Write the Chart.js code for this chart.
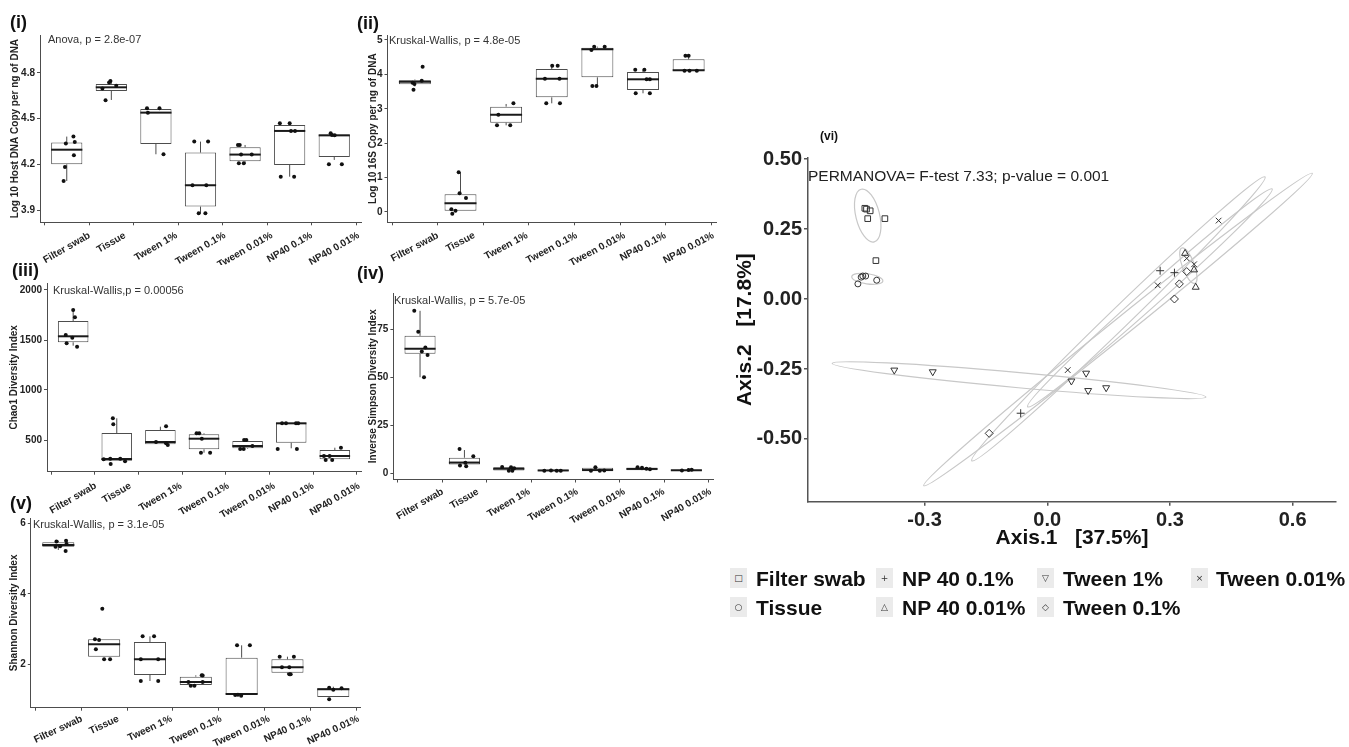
<!DOCTYPE html>
<html>
<head>
<meta charset="utf-8">
<title>Swab processing comparison</title>
<script src="https://cdn.jsdelivr.net/npm/chart.js@4.4.1/dist/chart.umd.min.js"></script>
<style>
  html, body { margin: 0; padding: 0; background: #fff; }
  body { position: relative; width: 1349px; height: 747px; overflow: hidden;
         font-family: "Liberation Sans", Arial, sans-serif; color: #111; }
  canvas { position: absolute; }
  .tag { position: absolute; font-weight: bold; font-size: 18px; line-height: 1; }
  .note { position: absolute; font-size: 11px; line-height: 1; color: #333; white-space: nowrap; }
  .key { position: absolute; width: 17px; height: 20px; background: #ebebeb; font: 9px "DejaVu Sans", sans-serif;
         color: #333; display: flex; align-items: center; justify-content: center; }
  .ktxt { position: absolute; font-weight: bold; font-size: 21px; line-height: 1; white-space: nowrap; }
</style>
</head>
<body>
<canvas id="c1" width="365" height="265" style="left:0;top:0"></canvas>
<canvas id="c2" width="365" height="265" style="left:355px;top:0"></canvas>
<canvas id="c3" width="365" height="265" style="left:0;top:262px"></canvas>
<canvas id="c4" width="365" height="265" style="left:355px;top:262px"></canvas>
<canvas id="c5" width="365" height="255" style="left:0;top:492px"></canvas>
<canvas id="c6" width="649" height="460" style="left:700px;top:100px"></canvas>

<div class="tag" style="left:10px;top:13px">(i)</div>
<div class="tag" style="left:357px;top:14px">(ii)</div>
<div class="tag" style="left:12px;top:261px">(iii)</div>
<div class="tag" style="left:357px;top:264px">(iv)</div>
<div class="tag" style="left:10px;top:494px">(v)</div>
<div class="tag" style="left:820px;top:130px;font-size:12px">(vi)</div>

<div class="note" style="left:48px;top:34px">Anova, p = 2.8e-07</div>
<div class="note" style="left:389px;top:35px">Kruskal-Wallis, p = 4.8e-05</div>
<div class="note" style="left:53px;top:285px">Kruskal-Wallis,p = 0.00056</div>
<div class="note" style="left:394px;top:295px">Kruskal-Wallis, p = 5.7e-05</div>
<div class="note" style="left:33px;top:519px">Kruskal-Wallis, p = 3.1e-05</div>
<div class="note" style="left:808px;top:168px;font-size:15.5px;color:#222">PERMANOVA= F-test 7.33; p-value = 0.001</div>
<div id="legend"></div>

<script>
Chart.defaults.font.family = '"Liberation Sans", Arial, sans-serif';
Chart.defaults.color = '#222';

// ---- categories ---- //
const groups = ["Filter swab", "Tissue", "Tween 1%", "Tween 0.1%", "Tween 0.01%", "NP40 0.1%", "NP40 0.01%"];

// ---- (i) host DNA ---- //
const hostQ1  = [4.201, 4.682, 4.335, 3.924, 4.221, 4.197, 4.249];
const hostMed = [4.297, 4.706, 4.540, 4.064, 4.265, 4.420, 4.391];
const hostQ3  = [4.345, 4.728, 4.564, 4.278, 4.313, 4.459, 4.396];
const hostLo  = [4.092, 4.623, 4.267, 3.880, 4.208, 4.120, 4.230];
const hostHi  = [4.383, 4.748, 4.564, 4.350, 4.328, 4.470, 4.396];
// [jitter, value]
const hostPts = [
  [[0.15, 4.383], [-0.02, 4.337], [0.18, 4.348], [0.16, 4.260], [-0.04, 4.184], [-0.07, 4.092]],
  [[-0.02, 4.748], [-0.05, 4.737], [0.11, 4.717], [-0.20, 4.699], [-0.13, 4.621]],
  [[-0.20, 4.568], [0.08, 4.568], [-0.18, 4.540], [0.17, 4.267]],
  [[-0.14, 4.350], [0.17, 4.350], [-0.18, 4.064], [0.13, 4.064], [-0.04, 3.880], [0.11, 3.880]],
  [[-0.16, 4.328], [-0.12, 4.328], [-0.09, 4.265], [0.15, 4.265], [-0.14, 4.208], [-0.03, 4.208]],
  [[-0.22, 4.470], [0.00, 4.470], [0.03, 4.420], [0.12, 4.420], [-0.20, 4.120], [0.10, 4.120]],
  [[-0.08, 4.405], [-0.05, 4.394], [0.01, 4.391], [-0.12, 4.201], [0.17, 4.201]]
];
const hostTicks = [3.9, 4.2, 4.5, 4.8];
const hostRange = [3.821, 5.049];

// ---- (ii) 16S ---- //
const s16Q1  = [3.711, 0.039, 2.597, 3.333, 3.915, 3.547, 4.109];
const s16Med = [3.789, 0.252, 2.829, 3.876, 4.729, 3.857, 4.118];
const s16Q3  = [3.828, 0.514, 3.062, 4.157, 4.777, 4.070, 4.438];
const s16Lo  = [3.650, 0.039, 2.519, 3.159, 3.663, 3.450, 4.109];
const s16Hi  = [3.850, 1.153, 3.140, 4.254, 4.806, 4.138, 4.545];
const s16Pts = [
  [[0.17, 4.225], [-0.05, 3.760], [0.15, 3.818], [-0.01, 3.721], [-0.03, 3.556]],
  [[-0.04, 1.153], [-0.02, 0.543], [0.12, 0.407], [-0.20, 0.078], [-0.11, 0.039], [-0.18, -0.048]],
  [[-0.17, 2.829], [0.16, 3.159], [-0.20, 2.519], [0.09, 2.519]],
  [[0.01, 4.254], [0.13, 4.254], [-0.15, 3.876], [0.17, 3.876], [-0.12, 3.159], [0.18, 3.159]],
  [[-0.07, 4.806], [0.16, 4.806], [-0.13, 4.709], [-0.11, 3.663], [-0.02, 3.663]],
  [[-0.17, 4.138], [0.03, 4.138], [0.08, 3.857], [0.15, 3.857], [-0.16, 3.450], [0.15, 3.450]],
  [[-0.07, 4.545], [0.00, 4.545], [-0.09, 4.109], [0.02, 4.109], [0.18, 4.109]]
];
const s16Ticks = [0, 1, 2, 3, 4, 5];
const s16Range = [-0.30, 5.145];

// ---- (iii) Chao1 ---- //
const chaoQ1  = [1477, 293, 457, 407, 417, 473, 307];
const chaoMed = [1537, 310, 480, 513, 440, 667, 340];
const chaoQ3  = [1690, 570, 600, 557, 490, 667, 400];
const chaoLo  = [1443, 293, 457, 373, 410, 417, 307];
const chaoHi  = [1790, 717, 633, 567, 500, 667, 423];
const chaoPts = [
  [[0.00, 1800], [0.04, 1727], [-0.17, 1550], [-0.02, 1523], [-0.15, 1467], [0.09, 1433]],
  [[-0.09, 717], [-0.08, 657], [-0.30, 307], [-0.15, 313], [0.08, 313], [0.19, 287], [-0.14, 260]],
  [[0.13, 637], [-0.10, 480], [0.13, 467], [0.17, 450]],
  [[-0.17, 567], [-0.11, 567], [-0.05, 513], [-0.07, 373], [0.14, 373]],
  [[-0.08, 500], [-0.03, 500], [0.11, 440], [-0.17, 410], [-0.09, 410]],
  [[-0.21, 667], [-0.12, 667], [0.11, 667], [0.16, 667], [-0.31, 410], [0.13, 410]],
  [[0.14, 423], [-0.25, 340], [-0.12, 340], [-0.06, 300], [-0.21, 300]]
];
const chaoTicks = [500, 1000, 1500, 2000];
const chaoRange = [183, 2070];

// ---- (iv) inverse Simpson ---- //
const simpQ1  = [62.2, 4.7, 1.6, 1.3, 1.4, 1.7, 1.5];
const simpMed = [64.8, 5.7, 2.5, 1.6, 1.8, 2.4, 1.7];
const simpQ3  = [71.5, 8.2, 3.2, 2.0, 3.0, 3.0, 1.9];
const simpLo  = [50.0, 4.7, 1.4, 1.3, 1.3, 1.6, 1.5];
const simpHi  = [84.5, 12.2, 3.4, 2.0, 3.2, 3.5, 1.9];
const simpPts = [
  [[-0.13, 84.5], [-0.04, 73.6], [0.12, 65.5], [0.04, 63.4], [0.17, 61.6], [0.09, 50.0]],
  [[-0.11, 12.7], [0.20, 9.0], [0.02, 5.6], [-0.10, 4.2], [0.04, 3.8]],
  [[-0.15, 3.4], [0.05, 3.3], [0.12, 2.8], [0.00, 1.5], [0.08, 1.4]],
  [[-0.20, 1.5], [-0.05, 1.6], [0.08, 1.5], [0.17, 1.4]],
  [[-0.05, 3.2], [-0.15, 1.5], [0.05, 1.4], [0.15, 1.6]],
  [[-0.10, 3.3], [0.00, 3.0], [0.10, 2.5], [0.18, 2.2]],
  [[-0.10, 1.6], [0.05, 1.8], [0.12, 1.9]]
];
const simpTicks = [0, 25, 50, 75];
const simpRange = [-3.1, 93.75];

// ---- (v) Shannon ---- //
const shanQ1  = [5.338, 2.217, 1.697, 1.414, 1.149, 1.764, 1.073];
const shanMed = [5.385, 2.567, 2.142, 1.499, 1.158, 1.915, 1.291];
const shanQ3  = [5.461, 2.709, 2.634, 1.650, 2.189, 2.142, 1.319];
const shanLo  = [5.243, 2.217, 1.527, 1.395, 1.149, 1.716, 1.073];
const shanHi  = [5.508, 2.709, 2.794, 1.688, 2.539, 2.217, 1.366];
const shanPts = [
  [[-0.04, 5.480], [0.17, 5.508], [-0.06, 5.338], [0.18, 5.414], [0.16, 5.215], [0.04, 5.348]],
  [[-0.04, 3.579], [-0.20, 2.709], [-0.11, 2.690], [-0.18, 2.426], [0.00, 2.142], [0.13, 2.142]],
  [[-0.16, 2.794], [0.09, 2.794], [-0.20, 2.142], [0.18, 2.142], [-0.20, 1.527], [0.18, 1.527]],
  [[0.13, 1.688], [0.15, 1.680], [-0.16, 1.499], [0.15, 1.499], [-0.11, 1.395], [-0.03, 1.395]],
  [[-0.10, 2.539], [0.18, 2.539], [-0.14, 1.130], [-0.08, 1.139], [-0.01, 1.111]],
  [[-0.17, 2.217], [0.14, 2.217], [-0.12, 1.915], [0.04, 1.915], [0.04, 1.716], [0.07, 1.716]],
  [[-0.09, 1.338], [0.00, 1.281], [0.18, 1.319], [-0.09, 1.007]]
];
const shanTicks = [2, 4, 6];
const shanRange = [0.77, 6.15];

// ---- (vi) PCoA ---- //
const pcoaGroups = ["Filter swab", "Tissue", "NP 40 0.1%", "NP 40 0.01%", "Tween 1%", "Tween 0.1%", "Tween 0.01%"];
const pcoaAx1 = [
  [-0.446, -0.442, -0.433, -0.439, -0.397, -0.419],
  [-0.463, -0.455, -0.451, -0.444, -0.417],
  [0.276, 0.311, -0.065],
  [0.337, 0.359, 0.363],
  [-0.374, -0.280, 0.095, 0.059, 0.100, 0.144],
  [0.341, 0.323, 0.311, -0.142],
  [0.419, 0.341, 0.359, 0.270, 0.050]
];
const pcoaAx2 = [
  [0.324, 0.321, 0.315, 0.287, 0.287, 0.137],
  [0.054, 0.078, 0.082, 0.082, 0.067],
  [0.101, 0.094, -0.408],
  [0.163, 0.104, 0.042],
  [-0.254, -0.260, -0.265, -0.293, -0.327, -0.317],
  [0.098, 0.054, 0.000, -0.480],
  [0.280, 0.145, 0.124, 0.049, -0.254]
];
// ellipse per group: centre, end of long axis, end of short axis
const ellCx = [-0.439, -0.440, 0.174, 0.345, -0.069, 0.173, 0.251];
const ellCy = [0.298, 0.072, -0.071, 0.119, -0.290, -0.109, 0.004];
const ellTx = [-0.455, -0.402, 0.5325, 0.361, 0.388, 0.648, 0.550];
const ellTy = [0.392, 0.064, 0.436, 0.056, -0.350, 0.449, 0.393];
const ellSx = [-0.411, -0.442, 0.191, 0.359, -0.0705, 0.187, 0.266];
const ellSy = [0.309, 0.054, -0.097, 0.126, -0.317, -0.134, -0.020];
const pcoaXTicks = [-0.3, 0.0, 0.3, 0.6];
const pcoaXTickLabels = ["-0.3", "0.0", "0.3", "0.6"];
const pcoaYTicks = [-0.5, -0.25, 0, 0.25, 0.5];
const pcoaYTickLabels = ["-0.50", "-0.25", "0.00", "0.25", "0.50"];
const pcoaXRange = [-0.585, 0.706];
const pcoaYRange = [-0.724, 0.505];
const pcoaSymbols = ["\u25A1", "\u25CB", "+", "\u25B3", "\u25BD", "\u25C7", "\u00D7"];

const AX = '#4d4d4d';

function boxPlugin(p) {
  return {
    id: 'box_' + p.id,
    beforeDatasetsDraw(chart) {
      const {ctx, scales: {x, y}} = chart;
      ctx.save();
      ctx.strokeStyle = AX;
      ctx.lineWidth = 1;
      groups.forEach((g, i) => {
        const px = x.getPixelForValue(i);
        ctx.beginPath();
        ctx.moveTo(px, y.getPixelForValue(p.q3[i]));
        ctx.lineTo(px, y.getPixelForValue(p.hi[i]));
        ctx.moveTo(px, y.getPixelForValue(p.q1[i]));
        ctx.lineTo(px, y.getPixelForValue(p.lo[i]));
        ctx.stroke();
      });
      ctx.restore();
    },
    afterDatasetDraw(chart, args) {
      if (args.index !== 1) return;
      const {ctx, scales: {x, y}} = chart;
      ctx.save();
      ctx.strokeStyle = '#1a1a1a';
      ctx.lineWidth = 2;
      groups.forEach((g, i) => {
        const py = y.getPixelForValue(p.med[i]);
        ctx.beginPath();
        ctx.moveTo(x.getPixelForValue(i - 0.35), py);
        ctx.lineTo(x.getPixelForValue(i + 0.35), py);
        ctx.stroke();
      });
      ctx.restore();
    },
    afterDraw(chart) {
      const {ctx, scales: {x}, chartArea} = chart;
      const th = p.angle * Math.PI / 180;
      ctx.save();
      ctx.font = 'bold 10px "Liberation Sans", Arial, sans-serif';
      ctx.fillStyle = '#222';
      ctx.textAlign = 'center';
      ctx.textBaseline = 'middle';
      groups.forEach((g, i) => {
        const w = ctx.measureText(g).width;
        const half = (w * Math.sin(th) + 8 * Math.cos(th)) / 2;
        ctx.save();
        ctx.translate(x.getPixelForValue(i), chartArea.bottom + p.labGap + half);
        ctx.rotate(-th);
        ctx.fillText(g, 0, 0);
        ctx.restore();
      });
      ctx.restore();
    }
  };
}

function boxPanel(p) {
  const boxes = groups.map((g, i) => ({x: i, y: [p.q1[i], p.q3[i]]}));
  const pts = [];
  p.pts.forEach((list, i) => list.forEach(d => pts.push({x: i + d[0], y: d[1]})));
  new Chart(document.getElementById(p.id), {
    type: 'bar',
    data: {
      datasets: [
        {type: 'scatter', data: pts, pointRadius: 2, pointBackgroundColor: '#111',
         pointBorderWidth: 0, order: 0},
        {type: 'bar', data: boxes, backgroundColor: '#fff', borderColor: AX, borderWidth: 1,
         borderSkipped: false, barPercentage: 0.7, categoryPercentage: 1, order: 1}
      ]
    },
    options: {
      responsive: false,
      animation: false,
      events: [],
      layout: {padding: {top: p.padTop, right: p.padRight, left: 0, bottom: 0}},
      plugins: {legend: {display: false}, tooltip: {enabled: false}},
      scales: {
        x: {
          type: 'linear', min: -0.6, max: 6.6, offset: false,
          afterBuildTicks: s => { s.ticks = groups.map((g, i) => ({value: i})); },
          afterFit: s => { s.height = p.xh; },
          ticks: {display: false},
          grid: {drawOnChartArea: false, tickLength: 3, color: AX},
          border: {color: AX, width: 1}
        },
        y: {
          min: p.range[0], max: p.range[1],
          afterBuildTicks: s => { s.ticks = p.ticks.map(v => ({value: v})); },
          afterFit: s => { s.width = p.yw; },
          ticks: {font: {size: 10, weight: 'bold'}, color: '#222', padding: 2,
                  callback: v => v.toFixed(p.dec)},
          grid: {drawOnChartArea: false, tickLength: 3, color: AX},
          border: {color: AX, width: 1},
          title: {display: true, text: p.title, color: '#222',
                  font: {size: 10, weight: 'bold'}, padding: {top: p.titlePad, bottom: 0}}
        }
      }
    },
    plugins: [boxPlugin(p)]
  });
}

boxPanel({id: 'c1', q1: hostQ1, med: hostMed, q3: hostQ3, lo: hostLo, hi: hostHi, pts: hostPts,
  ticks: hostTicks, range: hostRange, dec: 1, title: 'Log 10 Host DNA Copy per ng of DNA',
  yw: 40, xh: 42.7, padTop: 35, padRight: 3, titlePad: 9, angle: 30, labGap: 9});
boxPanel({id: 'c2', q1: s16Q1, med: s16Med, q3: s16Q3, lo: s16Lo, hi: s16Hi, pts: s16Pts,
  ticks: s16Ticks, range: s16Range, dec: 0, title: 'Log 10 16S Copy per ng of DNA',
  yw: 32.5, xh: 42.7, padTop: 35, padRight: 2.5, titlePad: 12, angle: 28, labGap: 9});
boxPanel({id: 'c3', q1: chaoQ1, med: chaoMed, q3: chaoQ3, lo: chaoLo, hi: chaoHi, pts: chaoPts,
  ticks: chaoTicks, range: chaoRange, dec: 0, title: 'Chao1 Diversity Index',
  yw: 47, xh: 55.3, padTop: 21, padRight: 3, titlePad: 8, angle: 30, labGap: 10});
boxPanel({id: 'c4', q1: simpQ1, med: simpMed, q3: simpQ3, lo: simpLo, hi: simpHi, pts: simpPts,
  ticks: simpTicks, range: simpRange, dec: 0, title: 'Inverse Simpson Diversity Index',
  yw: 38.4, xh: 47.5, padTop: 31, padRight: 7, titlePad: 12, angle: 30, labGap: 8});
boxPanel({id: 'c5', q1: shanQ1, med: shanMed, q3: shanQ3, lo: shanLo, hi: shanHi, pts: shanPts,
  ticks: shanTicks, range: shanRange, dec: 0, title: 'Shannon Diversity Index',
  yw: 30.8, xh: 39.3, padTop: 26, padRight: 4.2, titlePad: 8, angle: 25, labGap: 7});

// ---- PCoA ---- //
const ellipsePlugin = {
  id: 'ellipses',
  beforeDatasetsDraw(chart) {
    const {ctx, scales: {x, y}} = chart;
    ctx.save();
    ctx.strokeStyle = '#c8c8c8';
    ctx.lineWidth = 1.2;
    ellCx.forEach((cx, k) => {
      const c = [x.getPixelForValue(cx), y.getPixelForValue(ellCy[k])];
      const t = [x.getPixelForValue(ellTx[k]), y.getPixelForValue(ellTy[k])];
      const s = [x.getPixelForValue(ellSx[k]), y.getPixelForValue(ellSy[k])];
      const a = Math.hypot(t[0] - c[0], t[1] - c[1]);
      const b = Math.hypot(s[0] - c[0], s[1] - c[1]);
      const rot = Math.atan2(t[1] - c[1], t[0] - c[0]);
      ctx.beginPath();
      ctx.ellipse(c[0], c[1], a, b, rot, 0, Math.PI * 2);
      ctx.stroke();
    });
    ctx.restore();
  }
};

const pcoaStyles = ['rect', 'circle', 'cross', 'triangle', 'triangle', 'rectRot', 'crossRot'];
const pcoaRot = [0, 0, 0, 0, 180, 0, 0];
const pcoaRadius = [4, 3, 4, 4, 4, 4, 4];

new Chart(document.getElementById('c6'), {
  type: 'scatter',
  data: {
    datasets: pcoaGroups.map((g, k) => ({
      label: g,
      data: pcoaAx1[k].map((v, j) => ({x: v, y: pcoaAx2[k][j]})),
      pointStyle: pcoaStyles[k],
      pointRotation: pcoaRot[k],
      pointRadius: pcoaRadius[k],
      pointBorderColor: '#333',
      pointBackgroundColor: 'rgba(0,0,0,0)',
      pointBorderWidth: 1
    }))
  },
  options: {
    responsive: false,
    animation: false,
    events: [],
    layout: {padding: {top: 57.6, right: 13, left: 0, bottom: 0}},
    plugins: {legend: {display: false}, tooltip: {enabled: false}},
    scales: {
      x: {
        min: pcoaXRange[0], max: pcoaXRange[1],
        afterBuildTicks: s => { s.ticks = pcoaXTicks.map(v => ({value: v})); },
        afterFit: s => { s.height = 58.3; },
        ticks: {font: {size: 20, weight: 'bold'}, color: '#222', padding: 3,
                maxRotation: 0, callback: (v, i) => pcoaXTickLabels[i]},
        grid: {drawOnChartArea: false, tickLength: 4, color: '#555', lineWidth: 1.5},
        border: {color: '#555', width: 1.5},
        title: {display: true, text: 'Axis.1   [37.5%]', color: '#111',
                font: {size: 21, weight: 'bold'}, padding: {top: 0, bottom: 9.4}}
      },
      y: {
        min: pcoaYRange[0], max: pcoaYRange[1],
        afterBuildTicks: s => { s.ticks = pcoaYTicks.map(v => ({value: v})); },
        afterFit: s => { s.width = 108; },
        ticks: {font: {size: 20, weight: 'bold'}, color: '#222', padding: 2,
                callback: (v, i) => pcoaYTickLabels[i]},
        grid: {drawOnChartArea: false, tickLength: 4, color: '#555', lineWidth: 1.5},
        border: {color: '#555', width: 1.5},
        title: {display: true, text: 'Axis.2   [17.8%]', color: '#111',
                font: {size: 21, weight: 'bold'}, padding: {top: 32.4, bottom: 0}}
      }
    }
  },
  plugins: [ellipsePlugin]
});

// ---- legend (two rows, filled column by column) ---- //
const legendColKey = [730, 876, 1037, 1191];
const legendColText = [756, 902, 1063, 1216];
const legendRowTop = [568, 597];
const legend = document.getElementById('legend');
pcoaGroups.forEach((g, k) => {
  const col = Math.floor(k / 2), row = k % 2;
  const key = document.createElement('div');
  key.className = 'key';
  key.style.left = legendColKey[col] + 'px';
  key.style.top = legendRowTop[row] + 'px';
  key.textContent = pcoaSymbols[k];
  legend.appendChild(key);
  const txt = document.createElement('div');
  txt.className = 'ktxt';
  txt.style.left = legendColText[col] + 'px';
  txt.style.top = legendRowTop[row] + 'px';
  txt.textContent = g;
  legend.appendChild(txt);
});
</script>
</body>
</html>
